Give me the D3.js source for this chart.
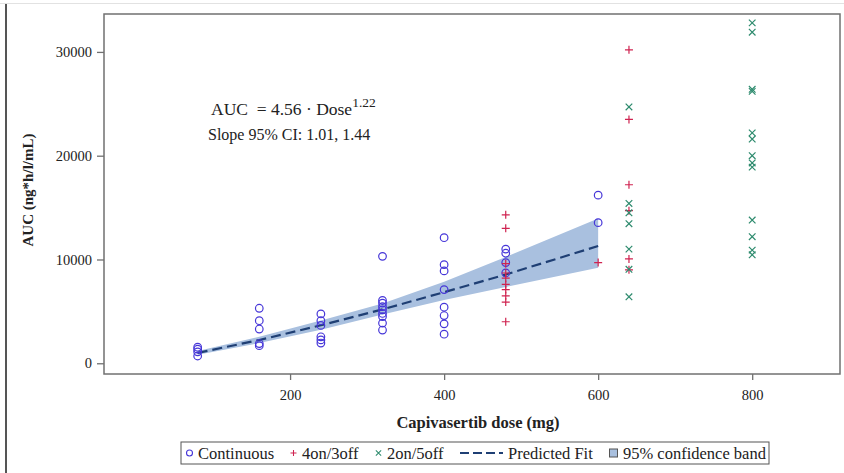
<!DOCTYPE html>
<html>
<head>
<meta charset="utf-8">
<script src="https://cdn.jsdelivr.net/npm/d3@7"></script>
<style>
  body { margin: 0; background: #fff; }
  svg text { font-family: "Liberation Serif", "Times New Roman", serif; fill: #222; }
</style>
</head>
<body>
<svg id="chart"></svg>
<script>
// dose levels used by the continuous schedule and the fit
const doses = [80, 160, 240, 320, 400, 480, 600];

// Continuous schedule AUC values per dose
const contAUC = [
    [1550, 1350, 1100, 700],
    [5300, 4100, 3300, 1900, 1700],
    [4750, 4100, 3650, 2550, 2250, 1950],
    [10300, 6050, 5800, 5450, 5150, 4800, 4500, 3870, 3200],
    [12100, 9500, 8900, 7100, 5400, 4600, 3800, 2800],
    [11000, 10600, 9700, 8700],
    [16200, 13550]
];

// 4on/3off
const on4Dose = [480, 600, 640];
const on4AUC = [
    [14300, 13000, 9600, 8700, 8200, 7600, 7100, 6500, 5900, 4000],
    [9700],
    [30200, 23500, 17200, 14700, 10050, 9000]
];

// 2on/5off
const on2Dose = [640, 800];
const on2AUC = [
    [24700, 15400, 14500, 13450, 11000, 9050, 6400],
    [32800, 31900, 26400, 26200, 22200, 21600, 20000, 19300, 18900, 13800, 12200, 10900, 10450]
];

// predicted fit and 95% band read at each dose
const fitAUC = [1000, 2240, 3660, 5190, 6850, 8550, 11300];
const bandLo = [820, 1950, 3230, 4700, 6100, 7350, 9200];
const bandHi = [1180, 2560, 4120, 5750, 7850, 10250, 13950];

const xTicks = [200, 400, 600, 800];
const yTicks = [0, 10000, 20000, 30000];

const legendItems = ["Continuous", "4on/3off", "2on/5off", "Predicted Fit", "95% confidence band"];

const colors = {
    cont: "#4636d8",
    on4: "#cf2350",
    on2: "#2e8b6e",
    fit: "#1f3f74",
    band: "#a9c0df",
    frame: "#707070"
};

const W = 844, H = 473;
const margin = { top: 14, right: 4, bottom: 99, left: 104 };

const svg = d3.select("#chart").attr("width", W).attr("height", H);

// page edge lines like the screenshot
svg.append("line").attr("x1", 0).attr("x2", W).attr("y1", 3.5).attr("y2", 3.5)
    .attr("stroke", "#e2e2e2").attr("stroke-width", 1);
svg.append("line").attr("x1", 6).attr("x2", 6).attr("y1", 4).attr("y2", H)
    .attr("stroke", "#555").attr("stroke-width", 2);

const xScale = d3.scaleLinear().domain([-41.6, 914]).range([margin.left, W - margin.right]);
const yScale = d3.scaleLinear().domain([-1034, 33654]).range([H - margin.bottom, margin.top]);

const chart = svg.append("g");

// confidence band
const bandData = doses.map((d, i) => ({ dose: d, lo: bandLo[i], hi: bandHi[i] }));
chart.append("path")
    .datum(bandData)
    .attr("fill", colors.band)
    .attr("d", d3.area()
        .x(d => xScale(d.dose))
        .y0(d => yScale(d.lo))
        .y1(d => yScale(d.hi)));

// fit line
chart.append("path")
    .datum(doses.map((d, i) => ({ dose: d, auc: fitAUC[i] })))
    .attr("fill", "none")
    .attr("stroke", colors.fit)
    .attr("stroke-width", 2.2)
    .attr("stroke-dasharray", "10,5")
    .attr("d", d3.line().x(d => xScale(d.dose)).y(d => yScale(d.auc)));

// flatten grouped values
function flat(ds, vals) {
    let out = [];
    ds.forEach((d, i) => vals[i].forEach(v => out.push({ dose: d, auc: v })));
    return out;
}

const contPts = flat(doses, contAUC);
const on4Pts = flat(on4Dose, on4AUC);
const on2Pts = flat(on2Dose, on2AUC);

chart.selectAll(".cont").data(contPts).join("circle")
    .attr("class", "cont")
    .attr("cx", d => xScale(d.dose))
    .attr("cy", d => yScale(d.auc))
    .attr("r", 3.8)
    .attr("fill", "none")
    .attr("stroke", colors.cont)
    .attr("stroke-width", 1.2);

const plusPath = "M-4,0H4M0,-4V4";
const crossPath = "M-3.3,-3.3L3.3,3.3M-3.3,3.3L3.3,-3.3";

chart.selectAll(".on4").data(on4Pts).join("path")
    .attr("class", "on4")
    .attr("transform", d => `translate(${xScale(d.dose)},${yScale(d.auc)})`)
    .attr("d", plusPath)
    .attr("stroke", colors.on4)
    .attr("stroke-width", 1.2);

chart.selectAll(".on2").data(on2Pts).join("path")
    .attr("class", "on2")
    .attr("transform", d => `translate(${xScale(d.dose)},${yScale(d.auc)})`)
    .attr("d", crossPath)
    .attr("stroke", colors.on2)
    .attr("stroke-width", 1.2);

// frame
svg.append("rect")
    .attr("x", margin.left).attr("y", margin.top)
    .attr("width", W - margin.left - margin.right)
    .attr("height", H - margin.top - margin.bottom)
    .attr("fill", "none")
    .attr("stroke", colors.frame)
    .attr("stroke-width", 1.5);

// axes
const xAxis = d3.axisBottom(xScale).tickValues(xTicks).tickSize(6).tickPadding(10);
const yAxis = d3.axisLeft(yScale).tickValues(yTicks).tickSize(7).tickPadding(5).tickFormat(d3.format("d"));

const xAxisG = svg.append("g")
    .attr("transform", `translate(0,${H - margin.bottom})`)
    .call(xAxis)
    .call(g => g.select(".domain").remove());
const yAxisG = svg.append("g")
    .attr("transform", `translate(${margin.left},0)`)
    .call(yAxis)
    .call(g => g.select(".domain").remove());

[xAxisG, yAxisG].forEach(g => {
    g.selectAll("line").attr("stroke", colors.frame).attr("stroke-width", 1.3);
    g.selectAll("text")
        .style("font-family", '"Liberation Serif", serif')
        .style("font-size", "14.5px")
        .attr("fill", "#222");
});

// axis titles
svg.append("text")
    .attr("x", 478).attr("y", 428)
    .attr("text-anchor", "middle")
    .style("font-size", "16.5px").style("font-weight", "bold")
    .text("Capivasertib dose (mg)");

svg.append("text")
    .attr("transform", "translate(33,190) rotate(-90)")
    .attr("text-anchor", "middle")
    .style("font-size", "15px").style("font-weight", "bold")
    .text("AUC (ng*h/l/mL)");

// equation annotation
const eq = svg.append("text")
    .attr("x", 211).attr("y", 115)
    .style("font-size", "17.5px")
    .style("white-space", "pre");
eq.append("tspan").text("AUC  = 4.56 \u00B7 Dose");
eq.append("tspan").attr("dy", -8).style("font-size", "13.5px").text("1.22");

svg.append("text")
    .attr("x", 208).attr("y", 140)
    .style("font-size", "16px")
    .text("Slope 95% CI: 1.01, 1.44");

// legend
const lg = svg.append("g");
lg.append("rect")
    .attr("x", 181).attr("y", 442).attr("width", 588).attr("height", 22)
    .attr("fill", "#fff").attr("stroke", "#555").attr("stroke-width", 1);

const ly = 453;
const lgX = [189.5, 293.5, 378.5, 460, 613.5];
const lgTextX = [198, 302, 387, 508, 623];

lg.append("circle").attr("cx", lgX[0]).attr("cy", ly).attr("r", 3)
    .attr("fill", "none").attr("stroke", colors.cont).attr("stroke-width", 1.1);
lg.append("path").attr("transform", `translate(${lgX[1]},${ly}) scale(0.75)`)
    .attr("d", plusPath).attr("stroke", colors.on4).attr("stroke-width", 1.4);
lg.append("path").attr("transform", `translate(${lgX[2]},${ly}) scale(0.8)`)
    .attr("d", crossPath).attr("stroke", colors.on2).attr("stroke-width", 1.3);
lg.append("line").attr("x1", lgX[3]).attr("x2", lgX[3] + 43).attr("y1", ly).attr("y2", ly)
    .attr("stroke", colors.fit).attr("stroke-width", 2.2).attr("stroke-dasharray", "9,4");
lg.append("rect").attr("x", lgX[4] - 4).attr("y", ly - 4).attr("width", 8).attr("height", 8)
    .attr("fill", colors.band).attr("stroke", "#555").attr("stroke-width", 1);

lg.selectAll(".lgtext").data(legendItems).join("text")
    .attr("class", "lgtext")
    .attr("x", (d, i) => lgTextX[i])
    .attr("y", ly + 5.5)
    .style("font-size", "16.5px")
    .text(d => d);
</script>
</body>
</html>
